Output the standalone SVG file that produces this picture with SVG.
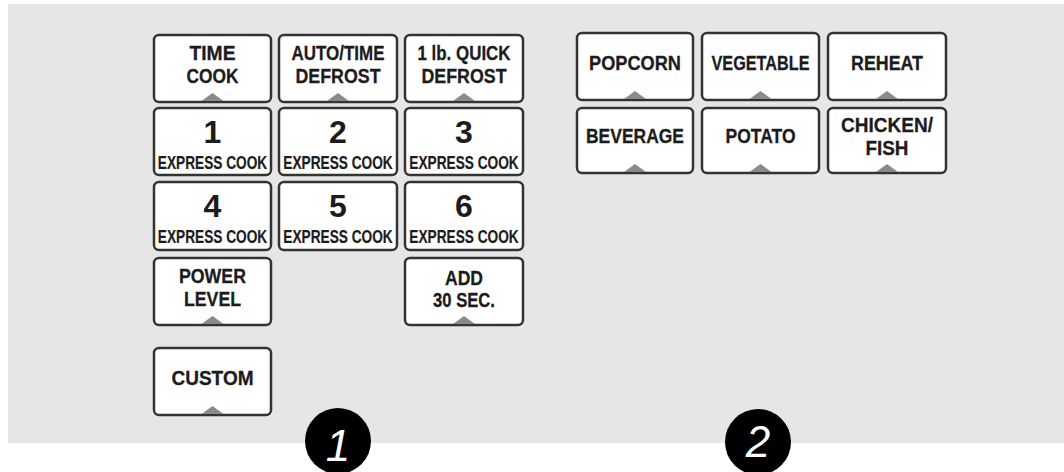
<svg xmlns="http://www.w3.org/2000/svg" width="1064" height="472" viewBox="0 0 1064 472">
<defs>
<style>
.btn{fill:#fff;stroke:#333;stroke-width:2.5}
.tab{fill:#8a8a8a}
.t{font-family:"Liberation Sans",Arial,sans-serif;font-weight:bold;font-size:21px;fill:#1c1c1c;stroke:#1c1c1c;stroke-width:0.3;text-anchor:middle}
.d{font-family:"Liberation Sans",Arial,sans-serif;font-weight:bold;font-size:32px;fill:#1c1c1c;text-anchor:middle}
.e{font-family:"Liberation Sans",Arial,sans-serif;font-weight:bold;font-size:18px;fill:#1c1c1c;stroke:#1c1c1c;stroke-width:0.2;text-anchor:middle}
.n{font-family:"Liberation Sans",Arial,sans-serif;font-style:italic;font-size:44px;fill:#fff;text-anchor:middle}
</style>
</defs>
<rect x="0" y="0" width="1064" height="472" fill="#fff"/>
<rect x="8" y="4" width="1060" height="439" fill="#e6e6e6"/>

<g id="time-cook"><rect class="btn" x="154" y="35" width="117" height="67" rx="5"/><path class="tab" d="M201.5 101 L212.5 93 L223.5 101 Z"/>
<text class="t" x="212.5" y="60" textLength="46" lengthAdjust="spacingAndGlyphs">TIME</text><text class="t" x="212.5" y="83" textLength="52" lengthAdjust="spacingAndGlyphs">COOK</text></g>
<g id="auto-time-defrost"><rect class="btn" x="279" y="35" width="118" height="67" rx="5"/><path class="tab" d="M327 101 L338 93 L349 101 Z"/>
<text class="t" x="338" y="60" textLength="93" lengthAdjust="spacingAndGlyphs">AUTO/TIME</text><text class="t" x="338" y="83" textLength="85" lengthAdjust="spacingAndGlyphs">DEFROST</text></g>
<g id="quick-defrost"><rect class="btn" x="405" y="35" width="118" height="67" rx="5"/><path class="tab" d="M453 101 L464 93 L475 101 Z"/>
<text class="t" x="464" y="60" textLength="93" lengthAdjust="spacingAndGlyphs">1 lb. QUICK</text><text class="t" x="464" y="83" textLength="85" lengthAdjust="spacingAndGlyphs">DEFROST</text></g>

<g id="key-1"><rect class="btn" x="154" y="108" width="117" height="67" rx="5"/>
<text class="d" x="212.5" y="143">1</text><text class="e" transform="translate(212.5 169) scale(0.76 1)">EXPRESS COOK</text></g>
<g id="key-2"><rect class="btn" x="279" y="108" width="118" height="67" rx="5"/>
<text class="d" x="338" y="143">2</text><text class="e" transform="translate(338 169) scale(0.76 1)">EXPRESS COOK</text></g>
<g id="key-3"><rect class="btn" x="405" y="108" width="118" height="67" rx="5"/>
<text class="d" x="464" y="143">3</text><text class="e" transform="translate(464 169) scale(0.76 1)">EXPRESS COOK</text></g>

<g id="key-4"><rect class="btn" x="154" y="182" width="117" height="68" rx="5"/>
<text class="d" x="212.5" y="217">4</text><text class="e" transform="translate(212.5 243) scale(0.76 1)">EXPRESS COOK</text></g>
<g id="key-5"><rect class="btn" x="279" y="182" width="118" height="68" rx="5"/>
<text class="d" x="338" y="217">5</text><text class="e" transform="translate(338 243) scale(0.76 1)">EXPRESS COOK</text></g>
<g id="key-6"><rect class="btn" x="405" y="182" width="118" height="68" rx="5"/>
<text class="d" x="464" y="217">6</text><text class="e" transform="translate(464 243) scale(0.76 1)">EXPRESS COOK</text></g>

<g id="power-level"><rect class="btn" x="154" y="258" width="117" height="67" rx="5"/><path class="tab" d="M201.5 324 L212.5 316 L223.5 324 Z"/>
<text class="t" x="212.5" y="283" textLength="67" lengthAdjust="spacingAndGlyphs">POWER</text><text class="t" x="212.5" y="306" textLength="57" lengthAdjust="spacingAndGlyphs">LEVEL</text></g>
<g id="add-30-sec"><rect class="btn" x="405" y="258" width="118" height="67" rx="5"/><path class="tab" d="M453 324 L464 316 L475 324 Z"/>
<text class="t" x="464" y="285" textLength="38" lengthAdjust="spacingAndGlyphs">ADD</text><text class="t" x="464" y="307" textLength="62" lengthAdjust="spacingAndGlyphs">30 SEC.</text></g>

<g id="custom"><rect class="btn" x="154" y="348" width="117" height="67" rx="5"/><path class="tab" d="M201.5 414 L212.5 406 L223.5 414 Z"/>
<text class="t" x="212.5" y="385" textLength="82" lengthAdjust="spacingAndGlyphs">CUSTOM</text></g>

<g id="popcorn"><rect class="btn" x="577" y="33" width="116" height="67" rx="5"/><path class="tab" d="M624 99 L635 91 L646 99 Z"/>
<text class="t" x="635" y="70" textLength="92" lengthAdjust="spacingAndGlyphs">POPCORN</text></g>
<g id="vegetable"><rect class="btn" x="702" y="33" width="117" height="67" rx="5"/><path class="tab" d="M749.5 99 L760.5 91 L771.5 99 Z"/>
<text class="t" x="760.5" y="70" textLength="98" lengthAdjust="spacingAndGlyphs">VEGETABLE</text></g>
<g id="reheat"><rect class="btn" x="828" y="33" width="118" height="67" rx="5"/><path class="tab" d="M876 99 L887 91 L898 99 Z"/>
<text class="t" x="887" y="70" textLength="72" lengthAdjust="spacingAndGlyphs">REHEAT</text></g>

<g id="beverage"><rect class="btn" x="577" y="108" width="116" height="65" rx="5"/><path class="tab" d="M624 172 L635 164 L646 172 Z"/>
<text class="t" x="635" y="143" textLength="98" lengthAdjust="spacingAndGlyphs">BEVERAGE</text></g>
<g id="potato"><rect class="btn" x="702" y="108" width="117" height="65" rx="5"/><path class="tab" d="M749.5 172 L760.5 164 L771.5 172 Z"/>
<text class="t" x="760.5" y="143" textLength="70" lengthAdjust="spacingAndGlyphs">POTATO</text></g>
<g id="chicken-fish"><rect class="btn" x="828" y="108" width="118" height="65" rx="5"/><path class="tab" d="M876 172 L887 164 L898 172 Z"/>
<text class="t" x="887" y="132" textLength="92" lengthAdjust="spacingAndGlyphs">CHICKEN/</text><text class="t" x="887" y="155" textLength="43" lengthAdjust="spacingAndGlyphs">FISH</text></g>

<g id="badge-1"><circle cx="338" cy="441" r="33" fill="#000"/><text class="n" x="338" y="461">1</text></g>
<g id="badge-2"><circle cx="758" cy="442" r="33" fill="#000"/><text class="n" x="758" y="457">2</text></g>
<g id="connectors"/>
</svg>
